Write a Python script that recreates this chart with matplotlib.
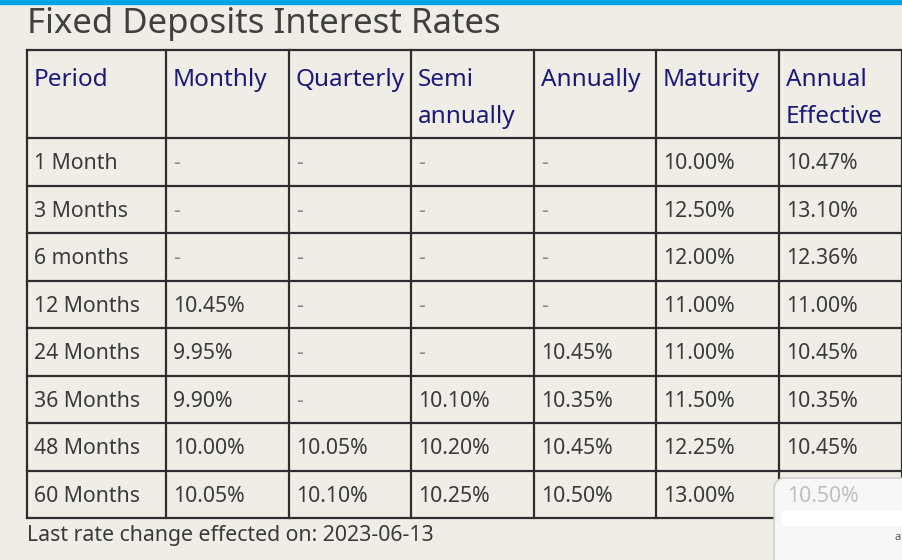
import matplotlib.pyplot as plt
from matplotlib.patches import FancyBboxPatch, Rectangle

# table content
title = "Fixed Deposits Interest Rates"
headers = ["Period", "Monthly", "Quarterly", "Semi\nannually", "Annually", "Maturity", "Annual\nEffective"]
periods = ["1 Month", "3 Months", "6 months", "12 Months", "24 Months", "36 Months", "48 Months", "60 Months"]
monthly = ["-", "-", "-", "10.45%", "9.95%", "9.90%", "10.00%", "10.05%"]
quarterly = ["-", "-", "-", "-", "-", "-", "10.05%", "10.10%"]
semi_annually = ["-", "-", "-", "-", "-", "10.10%", "10.20%", "10.25%"]
annually = ["-", "-", "-", "-", "10.45%", "10.35%", "10.45%", "10.50%"]
maturity = ["10.00%", "12.50%", "12.00%", "11.00%", "11.00%", "11.50%", "12.25%", "13.00%"]
annual_effective = ["10.47%", "13.10%", "12.36%", "11.00%", "10.45%", "10.35%", "10.45%", "10.50%"]
footer = "Last rate change effected on: 2023-06-13"

columns = [periods, monthly, quarterly, semi_annually, annually, maturity, annual_effective]

bg = "#f0ede6"
plt.rcParams['font.family'] = ['Noto Sans', 'DejaVu Sans']

fig = plt.figure(figsize=(9.03, 5.6), dpi=100, facecolor=bg)
ax = fig.add_axes([0, 0, 1, 1])
ax.set_xlim(0, 903)
ax.set_ylim(560, 0)
ax.axis("off")

# blue strip at top
ax.add_patch(Rectangle((0, 0), 903, 3.5, color="#00a3e8", zorder=5))

ax.text(27, 24, title, fontsize=25, color="#404040", va="center", ha="left")

col_x = [27, 166, 289, 411, 534, 656, 779, 902]
header_top, header_bot = 50, 138
row_h = 47.5
n_rows = len(periods)
row_y = [header_bot + i * row_h for i in range(n_rows + 1)]

line_kw = dict(color="#2e2e2e", lw=1.6, zorder=3, solid_capstyle="projecting")
# horizontal lines
for y in [header_top] + row_y:
    ax.plot([col_x[0], col_x[-1]], [y, y], **line_kw)
# vertical lines
for x in col_x:
    ax.plot([x, x], [header_top, row_y[-1]], **line_kw)

# header
for j, h in enumerate(headers):
    for k, part in enumerate(h.split("\n")):
        ax.text(col_x[j] + 7, 80 + k * 37, part, fontsize=17.5, color="#1b1a7a",
                va="center", ha="left")

# body
for j, col in enumerate(columns):
    for i, val in enumerate(col):
        yc = (row_y[i] + row_y[i + 1]) / 2 + 2
        c = "#8a8a8a" if val == "-" else "#3a3a3a"
        ax.text(col_x[j] + 7, yc, val, fontsize=15.3, color=c, va="center", ha="left", zorder=4)

ax.text(27, 536, footer, fontsize=15.3, color="#3a3a3a", va="center", ha="left")

# popup overlay in bottom-right corner
ax.add_patch(FancyBboxPatch((774, 478), 160, 110, boxstyle="round,pad=0,rounding_size=12",
                            facecolor="#f7f7f5", edgecolor="#c8c8c8", lw=1, zorder=6))
ax.text(787, 497, annual_effective[-1], fontsize=15.3, color="#c0c0c0", va="center", ha="left", zorder=7)
ax.add_patch(Rectangle((782, 511), 121, 14, color="white", zorder=7))
ax.text(895, 538, "a", fontsize=8, color="#555555", va="center", ha="left", zorder=7)

fig.savefig("out.png", dpi=100, facecolor=bg)
